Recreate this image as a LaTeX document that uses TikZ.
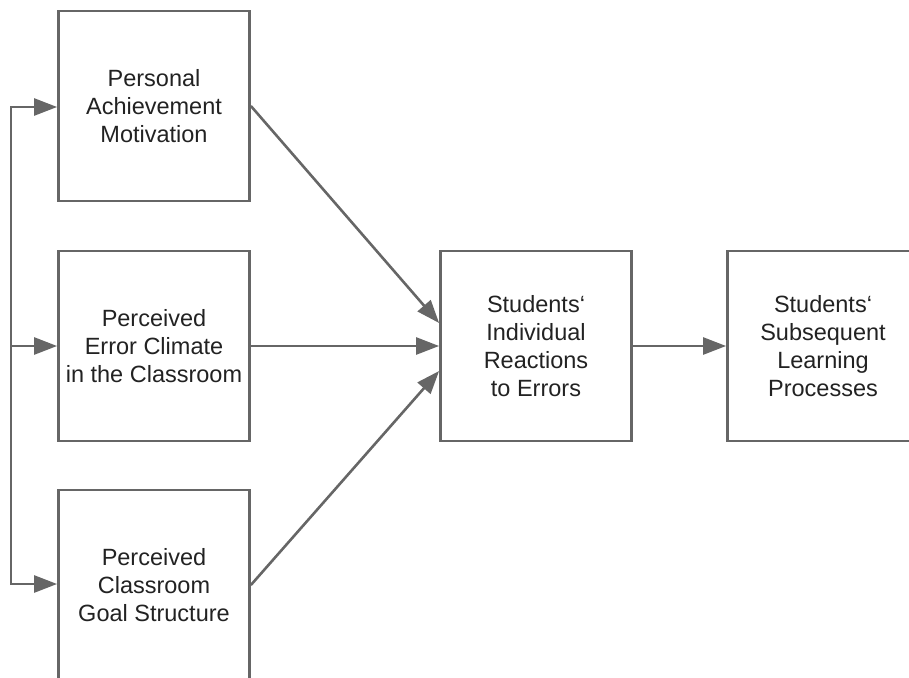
\documentclass[tikz,border=0pt]{standalone}
\usepackage{fontspec}
\setmainfont{Liberation Sans}
\usetikzlibrary{arrows.meta}
\definecolor{linegray}{HTML}{666666}
\definecolor{textgray}{HTML}{222222}
\begin{document}
\begin{tikzpicture}[x=1pt,y=-1pt,
  box/.style={draw=linegray, line width=2.8pt, minimum width=191pt, minimum height=190pt,
    align=center, text=textgray, font=\fontsize{23.5}{28}\selectfont, inner sep=0pt},
  conn/.style={draw=linegray, line width=2.6pt, line join=miter,
    -{Triangle[length=23pt,width=17pt]}}]
\useasboundingbox (0,0) rectangle (909,677);
\node[box] (pam) at (154,106) {Personal\\Achievement\\Motivation};
\node[box] (pec) at (154,346) {Perceived\\Error Climate\\in the Classroom};
\node[box] (pcg) at (154,585) {Perceived\\Classroom\\Goal Structure};
\node[box] (sir) at (536,346) {Students‘\\Individual\\Reactions\\to Errors};
\node[box] (ssl) at (823,346) {Students‘\\Subsequent\\Learning\\Processes};
\coordinate (top) at (11,107);
\coordinate (mid) at (11,346);
\coordinate (bot) at (11,584);
\draw[conn] (mid) -- (top) -- (top -| pam.west);
\draw[conn] (mid) -- (bot) -- (bot -| pcg.west);
\draw[conn] (mid) -- (pec.west);
\draw[conn] (pam.east) -- ([yshift=23pt]sir.west);
\draw[conn] (pec.east) -- (sir.west);
\draw[conn] (pcg.east) -- ([yshift=-25pt]sir.west);
\draw[conn] (sir.east) -- (ssl.west);
\end{tikzpicture}
\end{document}
